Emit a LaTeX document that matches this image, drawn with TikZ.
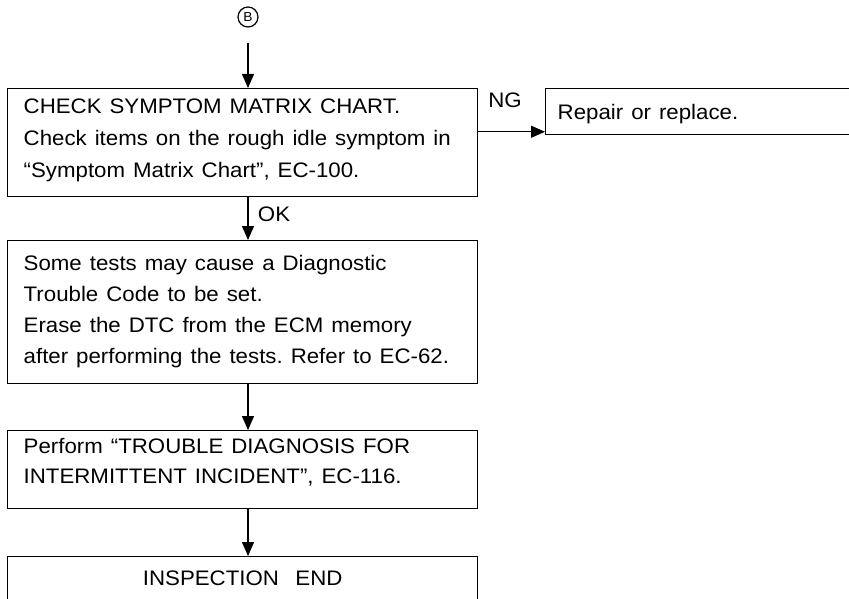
\documentclass[tikz,border=0pt]{standalone}
\usepackage{fontspec}
\setmainfont{Liberation Sans}[FakeStretch=1.06]
\usetikzlibrary{arrows.meta,calc,positioning}

% text face of the chart
\newcommand{\chartfont}[1]{\fontsize{21}{#1}\selectfont}

\tikzset{
  wide/.style={execute at begin node={\spaceskip=8pt plus 3pt minus 2pt\relax}},
  stepbox/.style={draw, line width=1.4pt, rectangle, anchor=north west,
    align=left, text width=438pt, inner xsep=16pt, text height=15pt,
    font=\chartfont{31}, wide},
  flow/.style={line width=1.3pt, -{Triangle[length=14pt,width=12pt]}},
  lbl/.style={font=\chartfont{31}},
}

\begin{document}
\frenchspacing
\begin{tikzpicture}[x=1pt,y=-1pt]
  \useasboundingbox (0,0) rectangle (849,599);

  % connector from page B
  \node[draw, circle, line width=1.2pt, inner sep=0pt, minimum size=20pt,
        font=\fontsize{13}{13}\selectfont] (B) at (248,17) {B};

  % main column of steps
  \node[stepbox, minimum height=108pt, text depth=73pt,
        font=\chartfont{32}] (check) at (7,88)
    {CHECK SYMPTOM MATRIX CHART.\\
     Check items on the rough idle symptom in\\
     ``Symptom Matrix Chart'', EC-100.};
  \node[stepbox, minimum height=143pt, text depth=98pt] (erase) at (7,240)
    {Some tests may cause a Diagnostic\\
     Trouble Code to be set.\\
     Erase the DTC from the ECM memory\\
     after performing the tests. Refer to EC-62.};
  \node[stepbox, minimum height=78pt, text depth=47pt,
        font=\chartfont{30}] (perform) at (7,430)
    {Perform ``TROUBLE DIAGNOSIS FOR\\
     INTERMITTENT INCIDENT'', EC-116.};
  \node[stepbox, align=center, minimum height=46pt, text depth=3pt]
    (done) at (7,556) {INSPECTION END};

  % NG branch (runs off the right edge)
  \node[stepbox, text width=400pt, inner xsep=12pt, minimum height=46pt,
        text depth=0pt] (repair) at (545,88) {Repair or replace.};

  \draw[flow, shorten <=15pt] (B) -- (B |- check.north);
  \draw[flow] (check.south -| B) -- (erase.north -| B)
    node[lbl, pos=0.4, right=6pt] (ok) {OK};
  \draw[flow] (erase.south -| B) -- (perform.north -| B);
  \draw[flow] (perform.south -| B) -- (done.north -| B);

  \coordinate (ng) at ($(check.north east)!0.4!(check.south east)$);
  \draw[flow] (ng) -- (ng -| repair.west)
    node[lbl, pos=0.4, above=20pt] (nglbl) {NG};
\end{tikzpicture}
\end{document}
